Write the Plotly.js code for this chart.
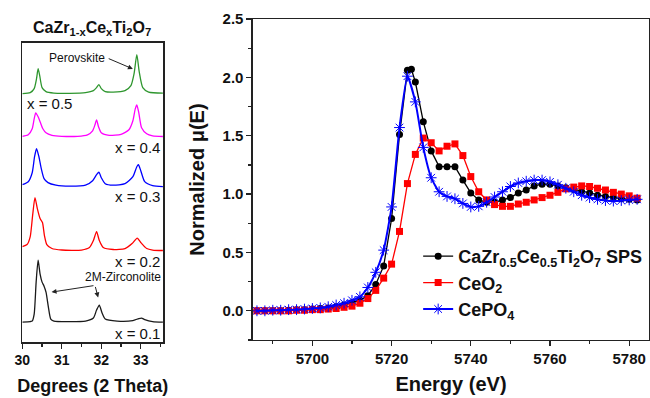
<!DOCTYPE html>
<html><head><meta charset="utf-8">
<script src="https://cdn.plot.ly/plotly-3.0.1.min.js"></script>
<style>html,body{margin:0;padding:0;background:#fff}#chart{width:650px;height:398px}</style>
</head><body><div id="chart"></div>
<script>
// ---------- XANES data (right panel) ----------
const energyCZ = [5686,5688,5690,5692,5694,5696,5698,5700,5702,5704,5706,5708,5710,5712,5714,5716,5718,5720,5722,5724,5725,5726,5728,5730,5732,5734,5736,5738,5740,5742,5744,5746,5748,5750,5752,5754,5756,5758,5760,5762,5764,5766,5768,5770,5772,5774,5776,5778,5780,5782];
const muCZ = [0,0,0,0,0.005,0.01,0.01,0.015,0.02,0.025,0.035,0.05,0.07,0.09,0.13,0.225,0.385,0.79,1.51,2.06,2.07,1.96,1.62,1.37,1.235,1.235,1.235,1.12,1.01,0.95,0.93,0.93,0.95,0.97,1.01,1.035,1.07,1.085,1.085,1.07,1.055,1.04,1.02,1.01,0.99,0.98,0.97,0.96,0.955,0.95];
const energyCeO2 = [5686,5688,5690,5692,5694,5696,5698,5700,5702,5704,5706,5708,5710,5712,5714,5716,5718,5720,5722,5724,5726,5728,5730,5732,5734,5736,5738,5740,5742,5744,5746,5748,5750,5752,5754,5756,5758,5760,5762,5764,5766,5768,5770,5772,5774,5776,5778,5780,5782];
const muCeO2 = [0,0,0,0,0,0.005,0.005,0.01,0.01,0.015,0.02,0.03,0.04,0.065,0.105,0.175,0.28,0.40,0.68,1.09,1.34,1.48,1.44,1.37,1.41,1.43,1.33,1.15,1.02,0.95,0.91,0.895,0.895,0.915,0.93,0.95,0.97,0.99,1.015,1.045,1.06,1.07,1.065,1.05,1.035,1.015,1.0,0.985,0.965];
const energyCePO4 = [5686,5688,5690,5692,5694,5696,5698,5700,5702,5704,5706,5708,5710,5712,5714,5716,5718,5720,5722,5724,5726,5728,5730,5732,5734,5736,5738,5740,5742,5744,5746,5748,5750,5752,5754,5756,5758,5760,5762,5764,5766,5768,5770,5772,5774,5776,5778,5780,5782];
const muCePO4 = [0,0,0.005,0.005,0.01,0.01,0.015,0.02,0.025,0.035,0.05,0.065,0.09,0.12,0.2,0.33,0.52,0.89,1.57,2.01,1.79,1.40,1.14,1.02,0.98,0.96,0.92,0.89,0.895,0.93,0.975,1.02,1.065,1.095,1.11,1.12,1.12,1.105,1.08,1.05,1.02,0.99,0.97,0.955,0.945,0.94,0.945,0.95,0.955];
const seriesNames = ['<b>CaZr<sub>0.5</sub>Ce<sub>0.5</sub>Ti<sub>2</sub>O<sub>7</sub> SPS</b>','<b>CeO<sub>2</sub></b>','<b>CePO<sub>4</sub></b>'];

// ---------- XRD data (left panel), intensity above each pattern's baseline ----------
const tth05 = [30.00,30.20,30.30,30.36,30.40,30.44,30.50,30.60,30.80,31.20,31.60,31.80,31.88,31.94,32.00,32.10,32.30,32.60,32.75,32.83,32.90,32.96,33.05,33.20,33.56];
const int05 = [0,1,5,15,25,18,6,2,0.5,0.3,1,3,6,9,5,2,1.5,3,8,20,39,22,6,1.5,0.5];
const tth04 = [30.00,30.15,30.25,30.30,30.34,30.40,30.46,30.52,30.60,30.75,31.00,31.40,31.65,31.78,31.84,31.88,31.93,32.00,32.20,32.50,32.70,32.80,32.86,32.90,32.95,33.02,33.15,33.30,33.56];
const int04 = [0.5,2,8,18,24,20,14,8,4,1.5,0.5,0.5,2,6,12,17,10,4,1.5,2.5,7,16,28,32,24,9,3,1,0.3];
const tth03 = [30.00,30.15,30.25,30.31,30.36,30.42,30.48,30.55,30.65,30.85,31.20,31.60,31.78,31.88,31.94,32.00,32.10,32.30,32.60,32.80,32.90,32.94,33.00,33.10,33.30,33.56];
const int03 = [2,5,14,30,38,30,18,8,4,1.5,0.5,1.5,6,12,14.5,9,3,1.5,3,10,20,22,16,5,1,0];
const tth02 = [30.00,30.12,30.20,30.26,30.32,30.38,30.45,30.51,30.56,30.62,30.75,31.00,31.50,31.70,31.80,31.88,31.95,32.05,32.30,32.60,32.78,32.91,33.00,33.15,33.30,33.56];
const int02 = [4,6,14,35,53,42,32,28,15,6,2,0.5,0.5,3,10,19,10,3,1,2,7,12.5,8,2,0.5,0];
const tth01 = [30.00,30.20,30.25,30.30,30.35,30.40,30.45,30.50,30.55,30.60,30.66,30.72,30.80,31.20,31.60,31.80,31.88,31.95,32.02,32.10,32.40,32.80,32.95,33.02,33.10,33.30,33.56];
const int01 = [0,0.5,1,8,40,62,48,40,36,30,15,3,1,0.5,1,4,12,17,9,3,1,1.5,3.5,4,2.5,0.5,0];
const xrdLabels = ['x = 0.5','x = 0.4','x = 0.3','x = 0.2','x = 0.1'];
const xrdOffsets = [249,205.7,155.7,91.7,20];

const FONT = 'Arial, "Liberation Sans", sans-serif';
const AX = '#222';
const xrdSets = [[tth05,int05,'#2e962e'],[tth04,int04,'#ff00ff'],[tth03,int03,'#0000ff'],[tth02,int02,'#ff0000'],[tth01,int01,'#1a1a1a']];

const traces = [];
xrdSets.forEach((s,i)=>{
  traces.push({x:s[0], y:s[1].map(v=>v+xrdOffsets[i]), type:'scatter', mode:'lines',
    line:{color:s[2], width:1.3, shape:'spline', smoothing:0.6}, xaxis:'x', yaxis:'y', showlegend:false, hoverinfo:'skip'});
});
traces.push({x:energyCZ, y:muCZ, name:seriesNames[0], legendgroup:'g1', type:'scatter', mode:'lines+markers', xaxis:'x2', yaxis:'y2',
  line:{color:'#000', width:1.3}, marker:{symbol:'circle', size:7, color:'#000'}});
traces.push({x:energyCeO2, y:muCeO2, name:seriesNames[1], legendgroup:'g2', type:'scatter', mode:'lines+markers', xaxis:'x2', yaxis:'y2',
  line:{color:'#ff0000', width:1.3}, marker:{symbol:'square', size:7, color:'#ff0000'}});
traces.push({x:energyCePO4, y:muCePO4, name:seriesNames[2], legendgroup:'g3', type:'scatter', mode:'lines+markers', xaxis:'x2', yaxis:'y2',
  line:{color:'#0000ff', width:2, shape:'spline', smoothing:0.5}, marker:{symbol:'asterisk-open', size:9, line:{color:'#4466ff', width:1}}});

const annotations = [
  {xref:'paper', yref:'paper', x:0.115, y:0.934, xanchor:'center', yanchor:'bottom', showarrow:false,
   text:'<b>CaZr<sub>1-x</sub>Ce<sub>x</sub>Ti<sub>2</sub>O<sub>7</sub></b>', font:{size:16, color:'#111', family:FONT}},
  {xref:'x', yref:'y', x:30.07, y:238.7, xanchor:'left', yanchor:'middle', showarrow:false, text:xrdLabels[0], font:{size:15,color:'#111',family:FONT}},
  {xref:'x', yref:'y', x:33.54, y:194.7, xanchor:'right', yanchor:'middle', showarrow:false, text:xrdLabels[1], font:{size:15,color:'#111',family:FONT}},
  {xref:'x', yref:'y', x:33.54, y:145.7, xanchor:'right', yanchor:'middle', showarrow:false, text:xrdLabels[2], font:{size:15,color:'#111',family:FONT}},
  {xref:'x', yref:'y', x:33.54, y:81, xanchor:'right', yanchor:'middle', showarrow:false, text:xrdLabels[3], font:{size:15,color:'#111',family:FONT}},
  {xref:'x', yref:'y', x:33.54, y:9, xanchor:'right', yanchor:'middle', showarrow:false, text:xrdLabels[4], font:{size:15,color:'#111',family:FONT}},
  {xref:'x', yref:'y', x:31.39, y:284.7, xanchor:'center', yanchor:'middle', showarrow:false, text:'Perovskite', font:{size:12,color:'#111',family:FONT}},
  {xref:'x', yref:'y', x:32.80, y:273.7, axref:'x', ayref:'y', ax:32.15, ay:284.7, text:'', showarrow:true, arrowhead:2, arrowsize:1, arrowwidth:1, arrowcolor:'#222'},
  {xref:'x', yref:'y', x:32.55, y:65.5, xanchor:'center', yanchor:'middle', showarrow:false, text:'2M-Zirconolite', font:{size:12,color:'#111',family:FONT}},
  {xref:'x', yref:'y', x:30.74, y:50, axref:'x', ayref:'y', ax:31.84, ay:56.7, text:'', showarrow:true, arrowhead:2, arrowsize:1, arrowwidth:1, arrowcolor:'#222'},
  {xref:'x', yref:'y', x:31.92, y:44.7, axref:'x', ayref:'y', ax:31.84, ay:56.7, text:'', showarrow:true, arrowhead:2, arrowsize:1, arrowwidth:1, arrowcolor:'#222'}
];

const layout = {
  width:650, height:398, margin:{l:20, r:1, t:19, b:56},
  paper_bgcolor:'#fff', plot_bgcolor:'#fff',
  font:{family:FONT, color:'#111'},
  showlegend:true,
  legend:{x:0.633, y:0.322, xanchor:'left', yanchor:'top', bgcolor:'rgba(0,0,0,0)', font:{size:18, family:FONT, color:'#111'}, tracegroupgap:0},
  xaxis:{domain:[0.0037,0.2278], range:[30,33.57], tickvals:[30,31,32,33], ticks:'outside', ticklen:5, tickwidth:1.3, tickcolor:AX,
    minor:{dtick:0.5, tick0:30, ticks:'outside', ticklen:3, tickcolor:AX},
    showline:true, linecolor:AX, linewidth:1.5, mirror:true, showgrid:false, zeroline:false,
    tickfont:{size:14, family:FONT, weight:'bold', color:'#111'},
    title:{text:'<b>Degrees (2 Theta)</b>', font:{size:18, family:FONT, color:'#111'}, standoff:12}, automargin:false},
  yaxis:{domain:[0,0.9257], range:[0,299.7], showticklabels:false, ticks:'', showline:true, linecolor:AX, linewidth:1.5, mirror:true,
    showgrid:false, zeroline:false, automargin:false},
  xaxis2:{domain:[0.3704,1], range:[5685,5785], anchor:'y2', tick0:5700, dtick:20, ticks:'outside', ticklen:5, tickwidth:1.3, tickcolor:AX,
    minor:{dtick:10, tick0:5690, ticks:'outside', ticklen:3, tickcolor:AX},
    showline:true, linecolor:AX, linewidth:1.5, mirror:true, showgrid:false, zeroline:false,
    tickfont:{size:15, family:FONT, weight:'bold', color:'#111'},
    title:{text:'<b>Energy (eV)</b>', font:{size:20, family:FONT, color:'#111'}, standoff:10}, automargin:false},
  yaxis2:{domain:[0.0062,1], range:[-0.25,2.5], anchor:'x2', tick0:0, dtick:0.5, tickformat:'.1f', ticks:'outside', ticklen:5, tickwidth:1.3, tickcolor:AX,
    minor:{dtick:0.25, tick0:0, ticks:'outside', ticklen:3, tickcolor:AX},
    showline:true, linecolor:AX, linewidth:1.5, mirror:true, showgrid:false, zeroline:false,
    tickfont:{size:15, family:FONT, weight:'bold', color:'#111'},
    title:{text:'<b>Normalized μ(E)</b>', font:{size:20, family:FONT, color:'#111'}, standoff:12}, automargin:false},
  annotations:annotations
};
Plotly.newPlot('chart', traces, layout, {displayModeBar:false, staticPlot:true});
</script></body></html>
